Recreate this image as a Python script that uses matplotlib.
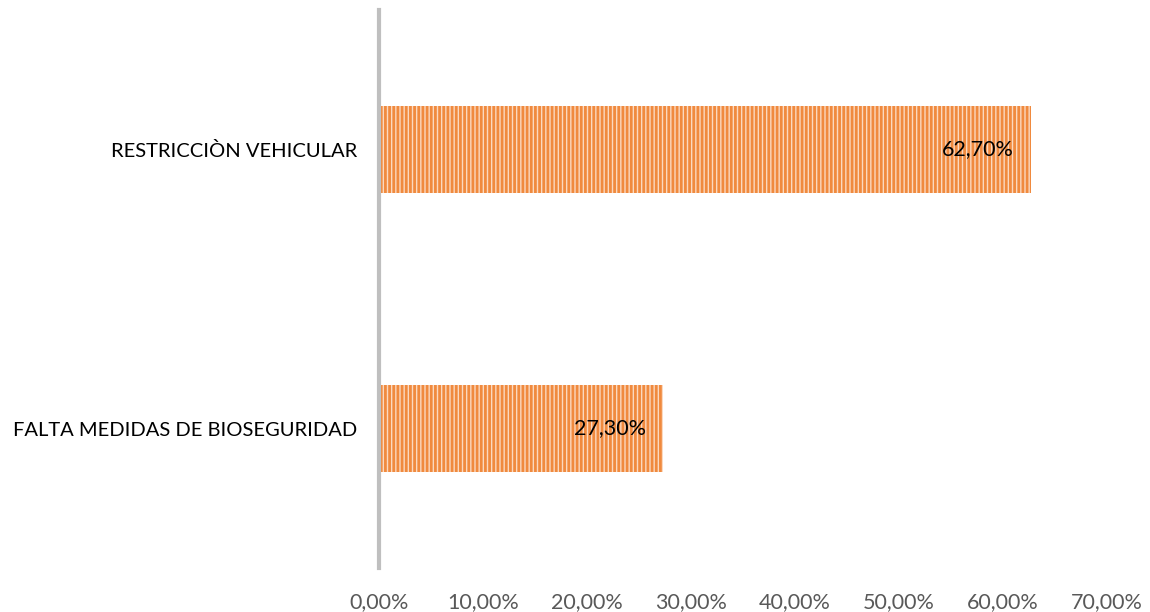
import matplotlib
matplotlib.use("Agg")
import matplotlib.pyplot as plt
from matplotlib.ticker import FuncFormatter

plt.rcParams['font.family'] = ['Lato', 'DejaVu Sans']
plt.rcParams['hatch.linewidth'] = 2.0

categories = ["FALTA MEDIDAS DE BIOSEGURIDAD", "RESTRICCIÒN VEHICULAR"]
values = [0.273, 0.627]
xticks = [0.0, 0.1, 0.2, 0.3, 0.4, 0.5, 0.6, 0.7]

def pct(v, pos=None):
    return f"{v*100:.2f}%".replace(".", ",")

fig = plt.figure(figsize=(11.5, 6.12), dpi=100)
ax = fig.add_axes([379/1150, 1-568/612, (1107-379)/1150, 558/612])

bars = ax.barh(range(len(categories)), values, height=0.31,
               color="#FBD9C0", edgecolor="#F08A3E", hatch="||||", linewidth=0)

ax.set_xlim(0, 0.7)
ax.set_ylim(-0.5, 1.5)
ax.set_yticks(range(len(categories)))
ax.set_yticklabels(categories, fontsize=14.5, color="#000000")
ax.set_xticks(xticks)
ax.xaxis.set_major_formatter(FuncFormatter(pct))
ax.tick_params(axis='x', length=0, pad=17, labelsize=15.5, labelcolor="#595959")
ax.tick_params(axis='y', length=0, pad=16)

for s in ["top", "right", "bottom"]:
    ax.spines[s].set_visible(False)
ax.spines["left"].set_color("#BFBFBF")
ax.spines["left"].set_linewidth(3)

for b, v in zip(bars, values):
    ax.text(v - 0.0165, b.get_y() + b.get_height()/2, pct(v),
            ha="right", va="center", fontsize=15.5, color="#000000")

fig.savefig("out.png", dpi=100)
